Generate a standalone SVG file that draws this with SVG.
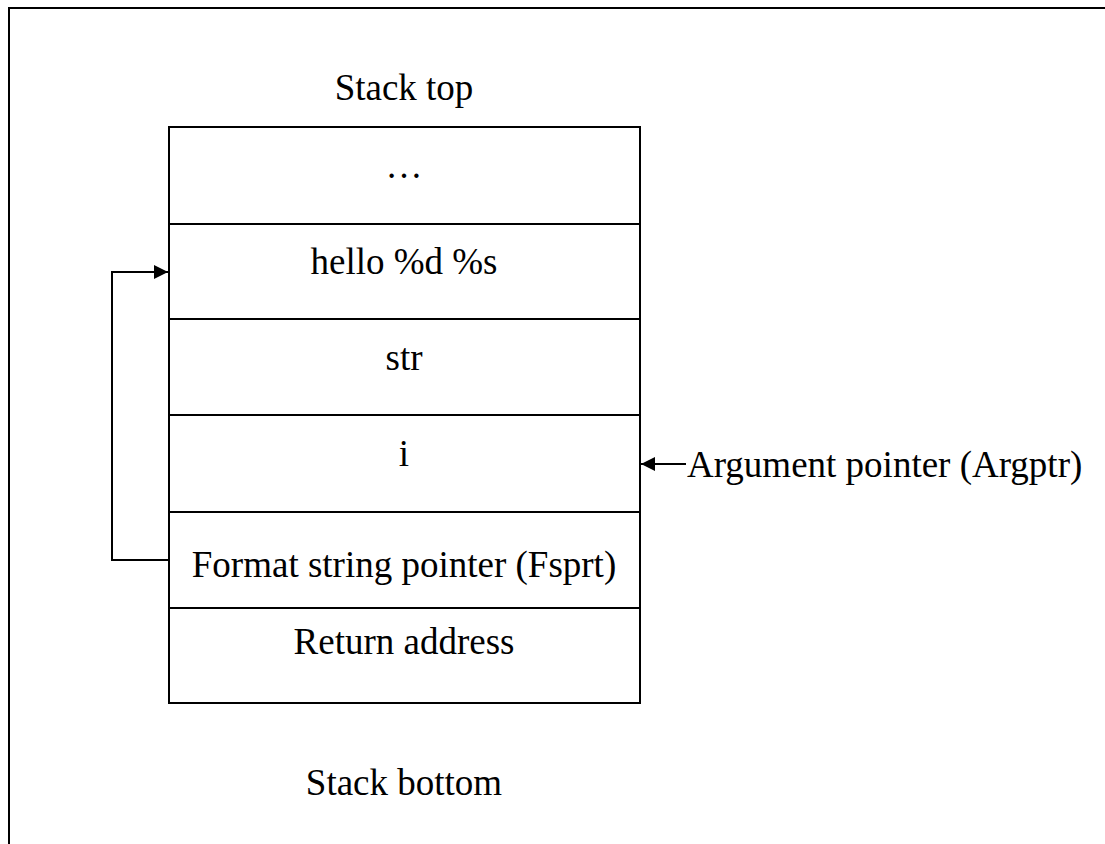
<svg xmlns="http://www.w3.org/2000/svg" width="1105" height="844" viewBox="0 0 1105 844">
<defs>
<style>
.t{font-family:"Liberation Serif","Times New Roman",serif;font-size:37px;fill:#000}
.c{text-anchor:middle}
.ln{stroke:#000;stroke-width:2;fill:none}
</style>
<marker id="ah" viewBox="0 0 10 10" refX="10" refY="5" markerWidth="16" markerHeight="14" markerUnits="userSpaceOnUse" orient="auto">
<path d="M0,0 L10,5 L0,10 Z" fill="#000"/>
</marker>
</defs>
<rect width="1105" height="844" fill="#fff"/>
<path class="ln" d="M9,844 V8 H1105" stroke-width="3"/>
<text class="t c" x="404" y="100">Stack top</text>
<g id="row1"><rect class="ln" x="169" y="127" width="471" height="97"/><text class="t c" x="404" y="178">…</text></g>
<g id="row2"><rect class="ln" x="169" y="224" width="471" height="95"/><text class="t c" x="404" y="274">hello %d %s</text></g>
<g id="row3"><rect class="ln" x="169" y="319" width="471" height="96"/><text class="t c" x="404" y="370">str</text></g>
<g id="row4"><rect class="ln" x="169" y="415" width="471" height="97"/><text class="t c" x="404" y="466">i</text></g>
<g id="row5"><rect class="ln" x="169" y="512" width="471" height="96"/><text class="t c" x="404" y="577">Format string pointer (Fsprt)</text></g>
<g id="row6"><rect class="ln" x="169" y="608" width="471" height="95"/><text class="t c" x="404" y="654">Return address</text></g>
<text class="t c" x="404" y="795">Stack bottom</text>
<text class="t" x="687" y="477">Argument pointer (Argptr)</text>
<g id="connectors">
<path class="ln" d="M169,560 H112 V272 H168" marker-end="url(#ah)"/>
<path class="ln" d="M686,464 H641" marker-end="url(#ah)"/>
</g>
</svg>
